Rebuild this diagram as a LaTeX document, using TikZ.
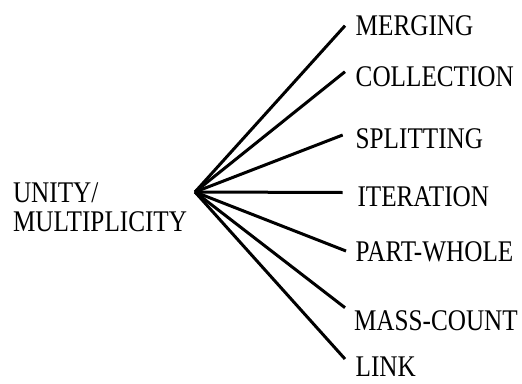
\documentclass[tikz,border=0pt]{standalone}
\usepackage{fontspec}
\setmainfont[FakeStretch=0.84]{Liberation Serif}
\begin{document}
\begin{tikzpicture}[x=1pt,y=-1pt,
  lbl/.style={anchor=base west,inner sep=0pt,outer sep=0pt,font=\fontsize{30}{30}\selectfont},
  branch/.style={line width=3pt}]
\useasboundingbox (0,0) rectangle (522,383);
\node[lbl] (unity) at (13,202.7) {UNITY/};
\node[lbl] (multi) at (13,231.7) {MULTIPLICITY};
\coordinate (hub) at (195,192);
\node[lbl] (merging) at (355.7,35) {MERGING};
\node[lbl] (collection) at (355.7,86) {COLLECTION};
\node[lbl] (splitting) at (355.7,148) {SPLITTING};
\node[lbl] (iteration) at (357.5,206.7) {ITERATION};
\node[lbl] (partwhole) at (355.7,261.7) {PART-WHOLE};
\node[lbl] (masscount) at (354,330) {MASS-COUNT};
\node[lbl,text depth=0pt] (link) at (355.7,376.5) {LINK};
\coordinate (eMerging) at (345,25.7);
\coordinate (eCollection) at (345,71.7);
\coordinate (eSplitting) at (342.7,135);
\coordinate (eIteration) at (342.7,192.5);
\coordinate (ePartwhole) at (346,251);
\coordinate (eMasscount) at (345,307.7);
\coordinate (eLink) at (345,359);
\foreach \e in {eMerging,eCollection,eSplitting,eIteration,ePartwhole,eMasscount,eLink}
  \draw[branch] (hub) -- (\e);
\end{tikzpicture}
\end{document}
